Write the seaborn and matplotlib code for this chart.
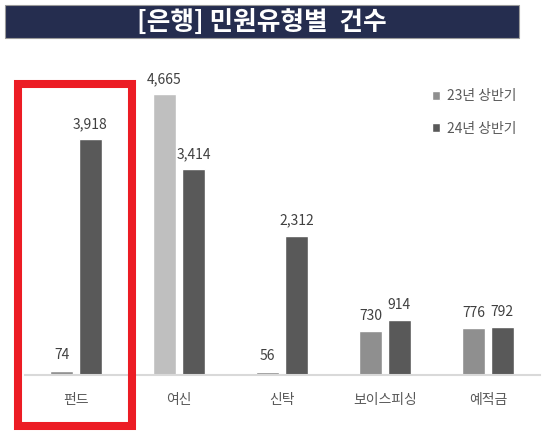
import pandas as pd
import seaborn as sns
import matplotlib.pyplot as plt
from matplotlib.patches import Rectangle

categories = ['펀드', '여신', '신탁', '보이스피싱', '예적금']
h1_2023 = [74, 4665, 56, 730, 776]
h1_2024 = [3918, 3414, 2312, 914, 792]
series = ['23년 상반기', '24년 상반기']
title = '[은행] 민원유형별  건수'

df = pd.DataFrame({
    '유형': categories * 2,
    '기간': [series[0]] * len(categories) + [series[1]] * len(categories),
    '건수': h1_2023 + h1_2024,
})

sns.set_theme(style='white')
plt.rcParams['font.family'] = ['Noto Sans CJK KR', 'DejaVu Sans']

W, H = 550, 433
fig = plt.figure(figsize=(W / 100, H / 100), dpi=100)


def px(x, y):
    # pixel (from top-left) -> figure fraction
    return x / W, (H - y) / H


# axes: x from 24.5 to 539.5 px, baseline at 375 px, top at 74 px
ax = fig.add_axes([24.5 / W, (H - 375) / H, 515 / W, 301 / H])
sns.barplot(data=df, x='유형', y='건수', hue='기간', palette=['#8f8f8f', '#595959'],
            width=0.56, gap=0.2, ax=ax, saturation=1)

# the 여신 bar of 2023 is lighter in the original
ax.containers[0][1].set_facecolor('#bfbfbf')

for cont, vals in zip(ax.containers, [h1_2023, h1_2024]):
    ax.bar_label(cont, labels=[f'{v:,}' for v in vals], padding=6,
                 fontsize=10, fontweight='medium', color='#404040')

ax.set_ylim(0, 5000)
ax.set_xlim(-0.5, 4.5)
ax.set_yticks([])
ax.set_xlabel('')
ax.set_ylabel('')
for s in ['top', 'left', 'right']:
    ax.spines[s].set_visible(False)
ax.spines['bottom'].set_color('#d9d9d9')
ax.spines['bottom'].set_linewidth(1.5)
ax.tick_params(axis='x', length=0, pad=13, labelsize=10, labelcolor='#595959')

sns.move_legend(ax, loc='upper left', bbox_to_anchor=px(432, 89), bbox_transform=fig.transFigure,
                frameon=False, title=None, fontsize=10, labelcolor='#595959',
                handlelength=0.6, handleheight=0.6, handletextpad=0.45,
                labelspacing=1.35, borderpad=0, borderaxespad=0)

# title bar
x0, y0 = px(5, 38)
x1, y1 = px(519, 5)
fig.patches.append(Rectangle((x0, y0), x1 - x0, y1 - y0, transform=fig.transFigure,
                             facecolor='#252d4f', edgecolor='#9a9a9a', linewidth=0.8))
tx, ty = px(262, 22)
fig.text(tx, ty, title, color='white', fontsize=18.5, fontweight='bold',
         ha='center', va='center')

# red highlight box around 펀드
rx0, ry0 = px(18, 426)
rx1, ry1 = px(132, 84)
fig.patches.append(Rectangle((rx0, ry0), rx1 - rx0, ry1 - ry0, transform=fig.transFigure,
                             facecolor='none', edgecolor='#ec1c24', linewidth=5.8))

fig.savefig('out.png', dpi=100)
